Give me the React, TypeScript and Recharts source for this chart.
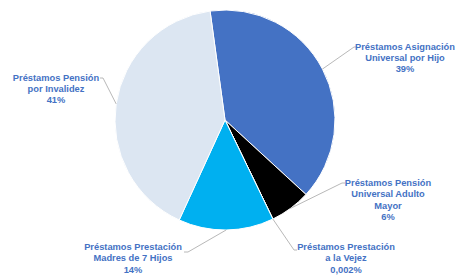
import React from "react";
import { PieChart, Pie, Cell } from "recharts";

const categories = [
  "Préstamos Asignación Universal por Hijo",
  "Préstamos Pensión Universal Adulto Mayor",
  "Préstamos Prestación a la Vejez",
  "Préstamos Prestación Madres de 7 Hijos",
  "Préstamos Pensión por Invalidez",
];
const values = [39, 6, 0.002, 14, 41];
const percentLabels = ["39%", "6%", "0,002%", "14%", "41%"];
const labelLines = [
  ["Préstamos Asignación", "Universal por Hijo"],
  ["Préstamos Pensión", "Universal Adulto", "Mayor"],
  ["Préstamos Prestación", "a la Vejez"],
  ["Préstamos Prestación", "Madres de 7 Hijos"],
  ["Préstamos Pensión", "por Invalidez"],
];
const colors = ["#4472C4", "#000000", "#A5A5A5", "#00B0F0", "#DCE6F2"];

// label layout, relative to pie centre: text centre x, first baseline y, elbow, end
const labelLayout = [
  { tx: 180, ty: -70.5, ex: 129, ey: -73, hx: 132, hy: -73 },
  { tx: 163, ty: 66, ex: 117, ey: 63, hx: 120, hy: 63 },
  { tx: 121, ty: 130, ex: 69, ey: 130, hx: 72, hy: 130 },
  { tx: -92, ty: 130, ex: -37, ey: 132, hx: -41, hy: 132 },
  { tx: -169, ty: -39.5, ex: -122, ey: -42, hx: -125, hy: -42 },
];

const data = categories.map((name, i) => ({ name, value: values[i] }));

const RAD = Math.PI / 180;

const renderLabel = (props: any) => {
  const { cx, cy, midAngle, outerRadius, index } = props;
  const L = labelLayout[index];
  const sx = cx + outerRadius * Math.cos(-midAngle * RAD);
  const sy = cy + outerRadius * Math.sin(-midAngle * RAD);
  const lines = [...labelLines[index], percentLabels[index]];
  return (
    <g key={`lbl-${index}`}>
      <polyline
        points={`${sx},${sy} ${cx + L.ex},${cy + L.ey} ${cx + L.hx},${cy + L.hy}`}
        fill="none"
        stroke="#A6A6A6"
        strokeWidth={0.8}
      />
      {lines.map((t, j) => (
        <text
          key={j}
          x={cx + L.tx}
          y={cy + L.ty + j * 11.3}
          textAnchor="middle"
          fill="#4472C4"
          fontSize={9.3}
          fontWeight="bold"
          fontFamily="'Liberation Sans', Arial, sans-serif"
        >
          {t}
        </text>
      ))}
    </g>
  );
};

export default function App() {
  const start = 97.8;
  return (
    <div style={{ position: "absolute", left: 0, top: 0, width: 456, height: 275, background: "#fff" }}>
      <PieChart width={456} height={275} margin={{ top: 0, right: 0, bottom: 0, left: 0 }}>
        <Pie
          data={data}
          dataKey="value"
          nameKey="name"
          cx={225}
          cy={120}
          outerRadius={110}
          startAngle={start}
          endAngle={start - 360}
          stroke="#FFFFFF"
          strokeWidth={1}
          label={renderLabel}
          labelLine={false}
          isAnimationActive={false}
        >
          {data.map((_, i) => (
            <Cell key={i} fill={colors[i]} />
          ))}
        </Pie>
      </PieChart>
    </div>
  );
}
